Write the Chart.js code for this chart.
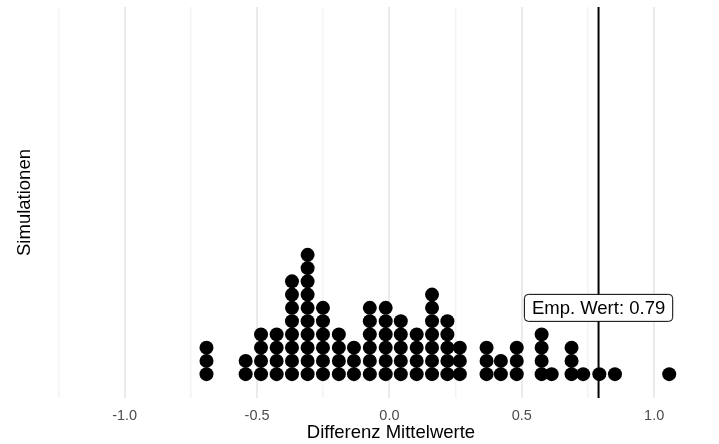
<!DOCTYPE html>
<html>
<head>
<meta charset="utf-8">
<script src="https://cdn.jsdelivr.net/npm/chart.js@4"></script>
<style>
html, body { margin: 0; padding: 0; background: #fff; overflow: hidden; }
#wrap { width: 744px; height: 444px; }
</style>
</head>
<body>
<div id="wrap"><canvas id="chart"></canvas></div>
<script>
// Dotplot-Spalten: Mittelpunkt (Differenz) und Anzahl gestapelter Punkte
const binCenters = [-0.691, -0.543, -0.485, -0.426, -0.368, -0.309, -0.251, -0.191, -0.134, -0.074,
                    -0.014, 0.043, 0.103, 0.161, 0.219, 0.266, 0.367, 0.421, 0.481, 0.575,
                    0.613, 0.688, 0.732, 0.793, 0.852, 1.057];
const binCounts  = [3, 2, 4, 4, 8, 10, 6, 4, 3, 6,
                    6, 5, 4, 7, 5, 3, 3, 2, 3, 4,
                    1, 3, 1, 1, 1, 1];

// Gitterlinien (Haupt- und Nebenlinien) und beschriftete Ticks
const tickValues = [-1.25, -1.0, -0.75, -0.5, -0.25, 0.0, 0.25, 0.5, 0.75, 1.0, 1.25];
const majorTicks = [-1.0, -0.5, 0.0, 0.5, 1.0];

// Empirischer Wert
const empValue = 0.79;
const empLabel = 'Emp. Wert: 0.79';
const empLabelLevel = 5;

const FONT = "'Liberation Sans', Arial, Helvetica, sans-serif";
const X_MIN = -1.301, X_MAX = 1.313;
const Y_MIN = -1.8, Y_MAX = 27.7;

// Punkte stapeln
const dots = [];
binCenters.forEach((x, i) => {
    for (let k = 0; k < binCounts[i]; k++) dots.push({ x: x, y: k });
});

const isMajor = v => majorTicks.some(m => Math.abs(m - v) < 1e-9);

// Label-Box mit weissem Hintergrund
const empLabelPlugin = {
    id: 'empLabel',
    afterDatasetsDraw(chart) {
        const ctx = chart.ctx;
        const px = chart.scales.x.getPixelForValue(empValue);
        const py = chart.scales.y.getPixelForValue(empLabelLevel);
        ctx.save();
        ctx.font = '18.5px ' + FONT;
        const w = ctx.measureText(empLabel).width + 15;
        const h = 27;
        ctx.beginPath();
        ctx.roundRect(px - w / 2, py - h / 2, w, h, 4);
        ctx.fillStyle = '#ffffff';
        ctx.fill();
        ctx.lineWidth = 1;
        ctx.strokeStyle = '#000000';
        ctx.stroke();
        ctx.fillStyle = '#000000';
        ctx.textAlign = 'center';
        ctx.textBaseline = 'middle';
        ctx.fillText(empLabel, px, py + 1);
        ctx.restore();
    }
};

new Chart(document.getElementById('chart'), {
    type: 'scatter',
    data: {
        datasets: [
            {
                type: 'line',
                data: [{ x: empValue, y: Y_MIN }, { x: empValue, y: Y_MAX }],
                borderColor: '#000000',
                borderWidth: 2,
                pointRadius: 0,
                order: 1
            },
            {
                data: dots,
                backgroundColor: '#000000',
                borderWidth: 0,
                pointRadius: 7,
                pointHoverRadius: 7,
                order: 2
            }
        ]
    },
    options: {
        responsive: true,
        maintainAspectRatio: false,
        animation: false,
        layout: { padding: { top: 5, right: 0, bottom: 0, left: 0 } },
        plugins: {
            legend: { display: false },
            tooltip: { enabled: false }
        },
        scales: {
            x: {
                type: 'linear',
                min: X_MIN,
                max: X_MAX,
                afterBuildTicks: s => { s.ticks = tickValues.map(v => ({ value: v })); },
                afterFit: s => { s.height = 46; },
                grid: {
                    drawTicks: false,
                    color: c => isMajor(c.tick.value) ? '#EBEBEB' : '#F3F3F3',
                    lineWidth: c => isMajor(c.tick.value) ? 2 : 1.5
                },
                border: { display: false },
                ticks: {
                    autoSkip: false,
                    maxRotation: 0,
                    padding: 9,
                    color: '#4D4D4D',
                    font: { family: FONT, size: 14.5 },
                    callback: v => isMajor(v) ? v.toFixed(1) : ''
                },
                title: {
                    display: true,
                    text: 'Differenz Mittelwerte',
                    color: '#000000',
                    font: { family: FONT, size: 18.5 },
                    padding: { top: 0, bottom: 0 }
                }
            },
            y: {
                min: Y_MIN,
                max: Y_MAX,
                afterFit: s => { s.width = 45; },
                grid: { display: false },
                border: { display: false },
                ticks: { display: false },
                title: {
                    display: true,
                    text: 'Simulationen',
                    color: '#000000',
                    font: { family: FONT, size: 18.5 },
                    padding: { top: 14, bottom: 0 }
                }
            }
        }
    },
    plugins: [empLabelPlugin]
});
</script>
</body>
</html>
